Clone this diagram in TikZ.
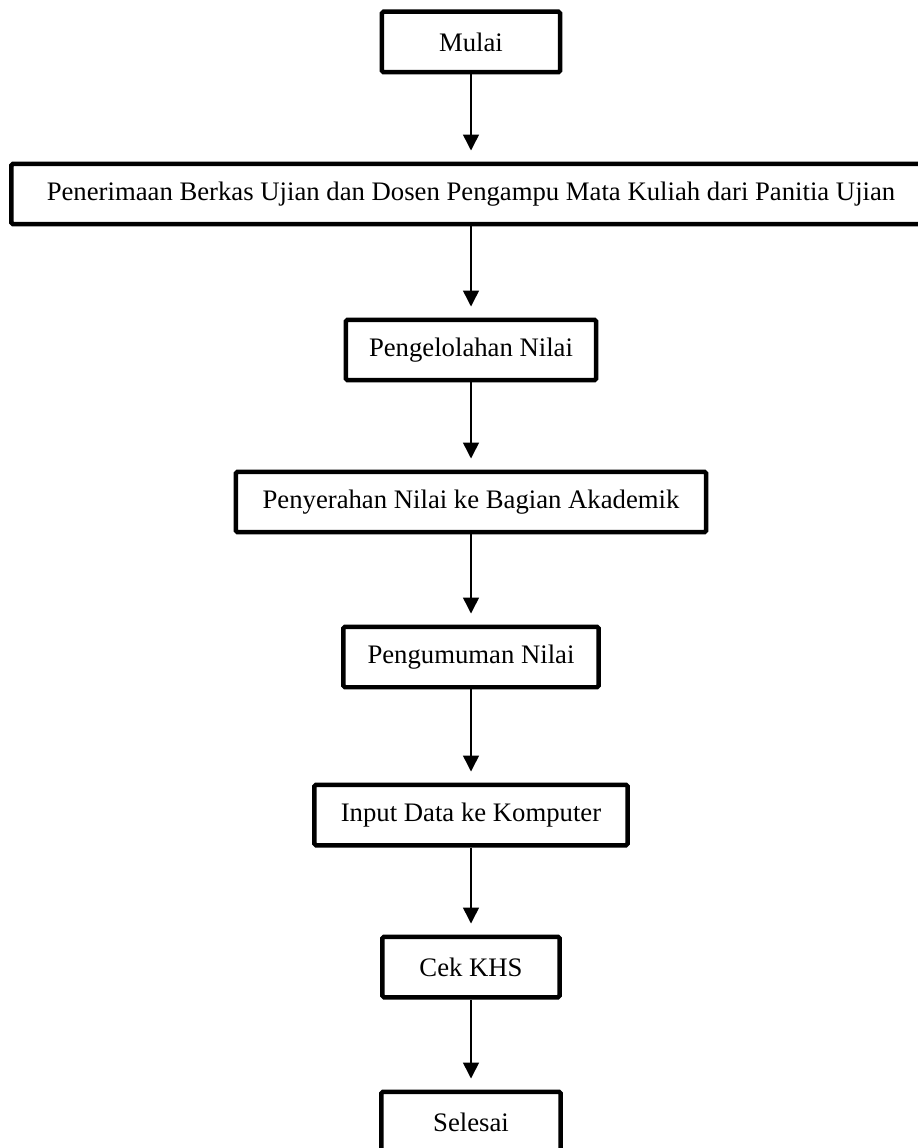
\documentclass[tikz,border=0pt]{standalone}
\usepackage{fontspec}
\setmainfont{Liberation Serif}
\usetikzlibrary{arrows.meta}

\begin{document}
\begin{tikzpicture}[x=0.02cm,y=-0.02cm,
    kotak/.style={draw, line width=0.09cm, rounded corners=1pt, minimum height=1.21cm,
      inner sep=0pt, font=\fontsize{15.2}{18}\selectfont},
    panah/.style={-{Triangle[width=0.32cm,length=0.32cm]}, line width=0.03cm, shorten >=0.22cm}]
    \useasboundingbox (0,0) rectangle (917,1148);

    % Kotak proses
    \node[kotak, minimum width=3.57cm] (mulai) at (471,42) {Mulai};
    \node[kotak, minimum width=18.39cm] (terima) at (471,194) {Penerimaan Berkas Ujian dan Dosen Pengampu Mata Kuliah dari Panitia Ujian};
    \node[kotak, minimum width=5.01cm] (olah) at (471,350) {Pengelolahan Nilai};
    \node[kotak, minimum width=9.41cm] (serah) at (471,502) {Penyerahan Nilai ke Bagian Akademik};
    \node[kotak, minimum width=5.11cm] (umum) at (471,657) {Pengumuman Nilai};
    \node[kotak, minimum width=6.27cm] (input) at (471,815) {Input Data ke Komputer};
    \node[kotak, minimum width=3.55cm] (cek) at (471,967) {Cek KHS};
    \node[kotak, minimum width=3.59cm] (selesai) at (471,1122) {Selesai};

    % Panah
    \draw[panah] (mulai) -- (terima);
    \draw[panah] (terima) -- (olah);
    \draw[panah] (olah) -- (serah);
    \draw[panah] (serah) -- (umum);
    \draw[panah] (umum) -- (input);
    \draw[panah] (input) -- (cek);
    \draw[panah] (cek) -- (selesai);
\end{tikzpicture}
\end{document}
